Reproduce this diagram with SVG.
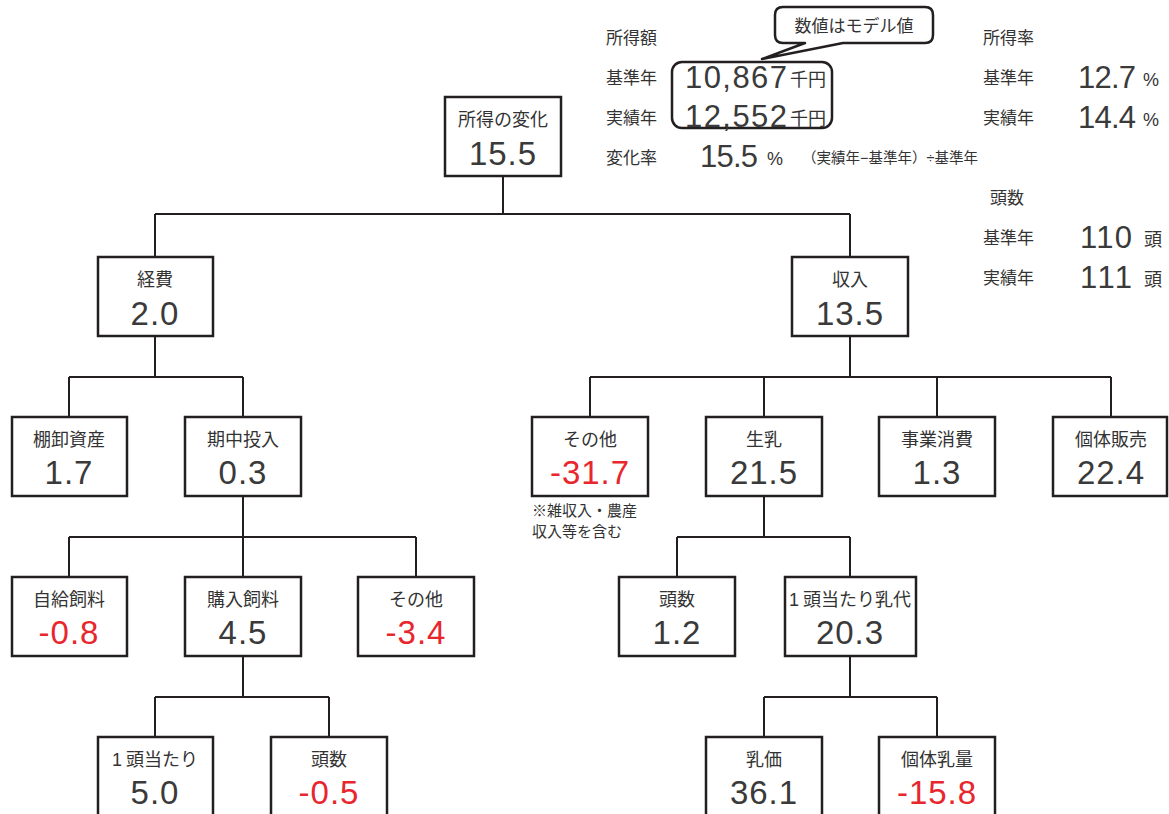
<svg xmlns="http://www.w3.org/2000/svg" width="1169" height="814" viewBox="0 0 1169 814">
<style>
text{font-family:"Liberation Sans","Noto Sans CJK JP",sans-serif;fill:#333}
.box{fill:#fff;stroke:#231f20;stroke-width:2.5}
.lbl{font-size:18px;text-anchor:middle}
.val{font-size:33px;text-anchor:middle;letter-spacing:1px;fill:#3a3a3a}
.val.neg{fill:#e8262e}
.con{fill:none;stroke:#231f20;stroke-width:2}
.info{font-size:17px}
.num{font-size:31px;fill:#3a3a3a}
.unit{font-size:18px}
.note{font-size:15px}
</style>
<rect width="1169" height="814" fill="#fff"/>
<g id="connectors" class="con">
<path d="M503 176V214M155 214H850M155 214V257M850 214V257"/>
<path d="M155 336V377M69 377H243M69 377V417M243 377V417"/>
<path d="M850 336V377M590 377H1111M590 377V417M764 377V417M937 377V417M1111 377V417"/>
<path d="M243 496V537M69 537H416M69 537V577M243 537V577M416 537V577"/>
<path d="M764 496V537M677 537H850M677 537V577M850 537V577"/>
<path d="M243 656V697M155 697H329M155 697V737M329 697V737"/>
<path d="M850 656V697M764 697H937M764 697V737M937 697V737"/>
</g>
<g id="n-root"><rect class="box" x="445" y="97" width="116" height="79"/><text class="lbl" x="503" y="126">所得の変化</text><text class="val" x="503" y="165">15.5</text></g>
<g id="n-keihi"><rect class="box" x="98" y="257" width="115" height="79"/><text class="lbl" x="155" y="286">経費</text><text class="val" x="155" y="325">2.0</text></g>
<g id="n-shunyu"><rect class="box" x="792" y="257" width="116" height="79"/><text class="lbl" x="850" y="286">収入</text><text class="val" x="850" y="325">13.5</text></g>
<g id="n-tanaoroshi"><rect class="box" x="12" y="417" width="115" height="79"/><text class="lbl" x="69" y="446">棚卸資産</text><text class="val" x="69" y="484">1.7</text></g>
<g id="n-kichu"><rect class="box" x="185" y="417" width="116" height="79"/><text class="lbl" x="243" y="446">期中投入</text><text class="val" x="243" y="484">0.3</text></g>
<g id="n-sonota-in"><rect class="box" x="532" y="417" width="116" height="79"/><text class="lbl" x="590" y="446">その他</text><text class="val neg" x="590" y="484">-31.7</text>
<text class="note" x="532" y="516">※雑収入・農産</text><text class="note" x="532" y="537">収入等を含む</text></g>
<g id="n-seinyu"><rect class="box" x="706" y="417" width="116" height="79"/><text class="lbl" x="764" y="446">生乳</text><text class="val" x="764" y="484">21.5</text></g>
<g id="n-jigyo"><rect class="box" x="879" y="417" width="116" height="79"/><text class="lbl" x="937" y="446">事業消費</text><text class="val" x="937" y="484">1.3</text></g>
<g id="n-kotai"><rect class="box" x="1053" y="417" width="114" height="79"/><text class="lbl" x="1111" y="446">個体販売</text><text class="val" x="1111" y="484">22.4</text></g>
<g id="n-jikyu"><rect class="box" x="12" y="577" width="115" height="79"/><text class="lbl" x="69" y="606">自給飼料</text><text class="val neg" x="69" y="644">-0.8</text></g>
<g id="n-konyu"><rect class="box" x="185" y="577" width="116" height="79"/><text class="lbl" x="243" y="606">購入飼料</text><text class="val" x="243" y="644">4.5</text></g>
<g id="n-sonota-c"><rect class="box" x="358" y="577" width="116" height="79"/><text class="lbl" x="416" y="606">その他</text><text class="val neg" x="416" y="644">-3.4</text></g>
<g id="n-tosu"><rect class="box" x="619" y="577" width="116" height="79"/><text class="lbl" x="677" y="606">頭数</text><text class="val" x="677" y="644">1.2</text></g>
<g id="n-nyudai"><rect class="box" x="785" y="577" width="131" height="79"/><text class="lbl" x="850" y="606">1<tspan dx="4">頭当たり乳代</tspan></text><text class="val" x="850" y="644">20.3</text></g>
<g id="n-atari"><rect class="box" x="98" y="737" width="115" height="79"/><text class="lbl" x="155" y="766">1<tspan dx="4">頭当たり</tspan></text><text class="val" x="155" y="804">5.0</text></g>
<g id="n-tosu2"><rect class="box" x="271" y="737" width="116" height="79"/><text class="lbl" x="329" y="766">頭数</text><text class="val neg" x="329" y="804">-0.5</text></g>
<g id="n-nyuka"><rect class="box" x="706" y="737" width="116" height="79"/><text class="lbl" x="764" y="766">乳価</text><text class="val" x="764" y="804">36.1</text></g>
<g id="n-nyuryo"><rect class="box" x="879" y="737" width="116" height="79"/><text class="lbl" x="937" y="766">個体乳量</text><text class="val neg" x="937" y="804">-15.8</text></g>
<g id="info-income">
<text class="info" x="606" y="44">所得額</text>
<text class="info" x="606" y="84">基準年</text>
<text class="info" x="606" y="124">実績年</text>
<text class="info" x="606" y="164">変化率</text>
<rect x="672" y="62" width="160" height="66" rx="10" fill="none" stroke="#231f20" stroke-width="2.5"/>
<text class="num" x="685" y="88" textLength="102">10,867</text><text class="unit" x="790" y="86">千円</text>
<text class="num" x="685" y="127" textLength="102">12,552</text><text class="unit" x="790" y="125">千円</text>
<text class="num" x="700" y="167" textLength="58">15.5</text><text class="unit" x="767" y="165">%</text>
<text x="802" y="163" font-size="14.5">（実績年−基準年）÷基準年</text>
</g>
<g id="callout">
<path d="M783 7H925Q933 7 933 15V35Q933 43 925 43H843L762 59L805 43H783Q775 43 775 35V15Q775 7 783 7Z" fill="#fff" stroke="#231f20" stroke-width="2.5" stroke-linejoin="round"/>
<text x="854" y="32" font-size="17" text-anchor="middle">数値はモデル値</text>
</g>
<g id="info-rate">
<text class="info" x="983" y="44">所得率</text>
<text class="info" x="983" y="84">基準年</text>
<text class="info" x="983" y="124">実績年</text>
<text class="num" x="1078" y="88" textLength="58">12.7</text><text class="unit" x="1143" y="86">%</text>
<text class="num" x="1078" y="128" textLength="58">14.4</text><text class="unit" x="1143" y="126">%</text>
</g>
<g id="info-head">
<text class="info" x="990" y="204">頭数</text>
<text class="info" x="983" y="244">基準年</text>
<text class="info" x="983" y="284">実績年</text>
<text class="num" x="1080" y="248" textLength="52">110</text><text class="unit" x="1144" y="246">頭</text>
<text class="num" x="1080" y="288" textLength="52">111</text><text class="unit" x="1144" y="286">頭</text>
</g>
</svg>
